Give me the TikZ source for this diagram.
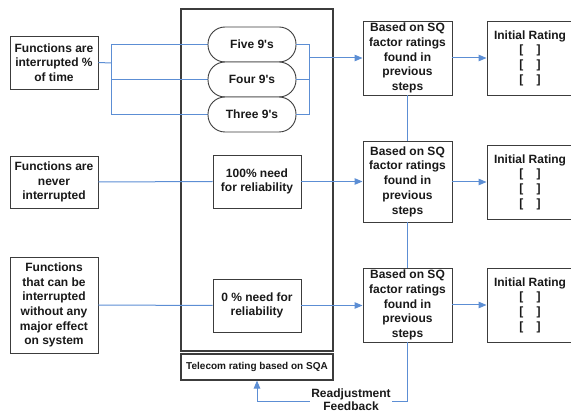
\documentclass[tikz,border=0pt]{standalone}
\usepackage{fontspec}
\setmainfont{Liberation Sans}[Ligatures=TeXOff]
\usetikzlibrary{arrows.meta,calc}
\definecolor{linkblue}{RGB}{92,142,212}
\definecolor{edge}{RGB}{60,60,60}
\definecolor{ink}{RGB}{25,25,25}
\begin{document}
\begin{tikzpicture}[x=1pt,y=-1pt,
  box/.style={draw=edge,line width=0.9pt,fill=white,align=center,inner sep=0pt,
    text=ink,font=\fontsize{12}{14.7}\selectfont\bfseries},
  pill/.style={box,rounded corners=17pt,minimum width=88,minimum height=35},
  link/.style={draw=linkblue,line width=1pt},
  arrow/.style={link,-{Triangle[length=8pt,width=6.5pt]}}]
\useasboundingbox (0,0) rectangle (571,414);

% outer frame and its caption
\node[draw=edge,line width=1.3pt,minimum width=152,minimum height=342,inner sep=0pt] (frame) at (257,180) {};
\node[box,line width=1.1pt,minimum width=152,minimum height=26,font=\fontsize{10}{12}\selectfont\bfseries] (tele) at (257,367) {Telecom rating based on SQA};

% function classes
\node[box,minimum width=88,minimum height=53] (L1) at (54,62.5) {Functions are\\interrupted \%\\of time};
\node[box,minimum width=88,minimum height=52] (L2) at (54,182) {Functions are\\never\\interrupted};
\node[box,minimum width=88,minimum height=96] (L3) at (54,305) {Functions\\that can be\\interrupted\\without any\\major effect\\on system};

% wiring from the first class to the availability pills
\coordinate (jL) at (111,63);
\coordinate (jR) at (309,58);
\draw[link] (L1.east) -- (jL);
\draw[link] (jL |- 0,44.5) -- (jL |- 0,114.5);
\draw[link] (jL |- 0,44.5) -- (208,44.5);
\draw[link] (jL |- 0,79.5) -- (208,79.5);
\draw[link] (jL |- 0,114.5) -- (208,114.5);

% availability pills
\node[pill] (five) at (252,44.5) {Five 9's};
\node[pill] (four) at (252,79.5) {Four 9's};
\node[pill] (three) at (252,114.5) {Three 9's};

\draw[link] (five.east) -- (five.east -| jR) -- (three.east -| jR) -- (three.east);
\draw[link] (four.east) -- (four.east -| jR);

% reliability needs
\node[box,minimum width=88,minimum height=53] (full) at (257,181.5) {100\% need\\for reliability};
\node[box,minimum width=88,minimum height=53] (none) at (257,305.5) {0 \% need for\\reliability};

% SQ factor boxes
\node[box,minimum width=89,minimum height=74] (sq1) at (407.5,58) {Based on SQ\\factor ratings\\found in\\previous\\steps};
\node[box,minimum width=89,minimum height=81] (sq2) at (407.5,181.5) {Based on SQ\\factor ratings\\found in\\previous\\steps};
\node[box,minimum width=89,minimum height=74] (sq3) at (407.5,305) {Based on SQ\\factor ratings\\found in\\previous\\steps};

% initial ratings
\node[box,minimum width=86,minimum height=74] (r1) at (530,58) {Initial Rating\\{[}\hspace{1.1em}{]}\\{[}\hspace{1.1em}{]}\\{[}\hspace{1.1em}{]}};
\node[box,minimum width=86,minimum height=74] (r2) at (530,182) {Initial Rating\\{[}\hspace{1.1em}{]}\\{[}\hspace{1.1em}{]}\\{[}\hspace{1.1em}{]}};
\node[box,minimum width=86,minimum height=74] (r3) at (530,305) {Initial Rating\\{[}\hspace{1.1em}{]}\\{[}\hspace{1.1em}{]}\\{[}\hspace{1.1em}{]}};

% flows
\draw[arrow] (jR) -- (sq1.west);
\draw[link] (L2.east) -- (full.west);
\draw[arrow] (full.east) -- (sq2.west |- full.east);
\draw[link] (L3.east) -- (none.west);
\draw[arrow] (none.east) -- (sq3.west |- none.east);
\draw[arrow] (sq1.east) -- (r1.west);
\draw[arrow] (sq2.east |- r2.west) -- (r2.west);
\draw[arrow] (sq3.east) -- (r3.west);
\draw[link] (sq1.south) -- (sq2.north);
\draw[link] (sq2.south) -- (sq3.north);

% feedback loop
\coordinate (fb) at (407.5,402);
\draw[arrow] (sq3.south) -- (fb) -- (tele.south |- fb) -- (tele.south);
\node[fill=white,inner sep=1.5pt,align=center,text=ink,font=\fontsize{12}{13.5}\selectfont\bfseries] (fbl) at (351,399.5) {Readjustment\\Feedback};
\end{tikzpicture}
\end{document}
